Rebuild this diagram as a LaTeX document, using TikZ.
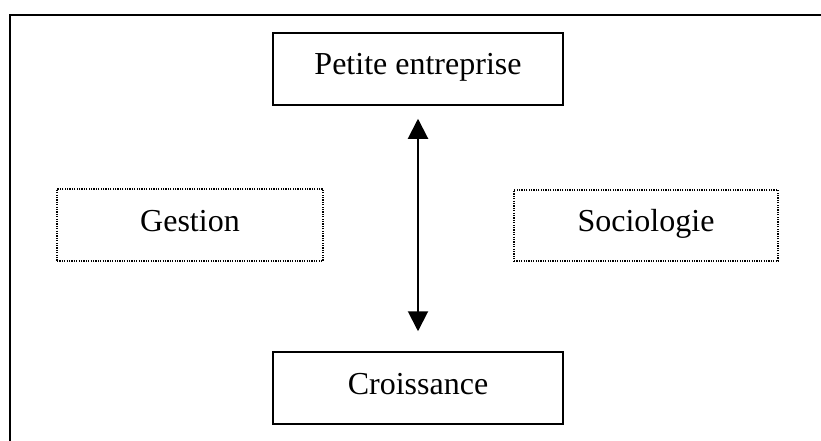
\documentclass[tikz,border=0pt]{standalone}
\usepackage{fontspec}
\setmainfont{Liberation Serif}
\usetikzlibrary{arrows.meta}
\begin{document}
\begin{tikzpicture}[x=1pt,y=-1pt,
  boxtext/.style={inner sep=0pt, text height=20pt, text depth=8pt, font=\fontsize{32}{38}\selectfont},
  solidbox/.style={boxtext, draw, line width=1.5pt},
  dotbox/.style={boxtext, draw, line width=1.2pt, dash pattern=on 1.2pt off 1.2pt},
  link/.style={line width=2pt, {Triangle[length=20pt,width=20pt]}-{Triangle[length=20pt,width=20pt]}}]
  \useasboundingbox (0,0) rectangle (821,441);
  % open frame: top and left edges only
  \draw[line width=2pt] (10,441) -- (10,15) -- (821,15);
  % nodes
  \node[solidbox, minimum width=290pt, minimum height=72pt] (pe) at (418,69) {Petite entreprise};
  \node[solidbox, minimum width=290pt, minimum height=72pt] (cr) at (418,388) {Croissance};
  \node[dotbox, minimum width=266pt, minimum height=72pt] (ge) at (190,225) {Gestion};
  \node[dotbox, minimum width=264pt, minimum height=71pt] (so) at (646,225.5) {Sociologie};
  % two-way link
  \draw[link, shorten <=13pt, shorten >=20pt] (pe.south) -- (cr.north);
\end{tikzpicture}
\end{document}
